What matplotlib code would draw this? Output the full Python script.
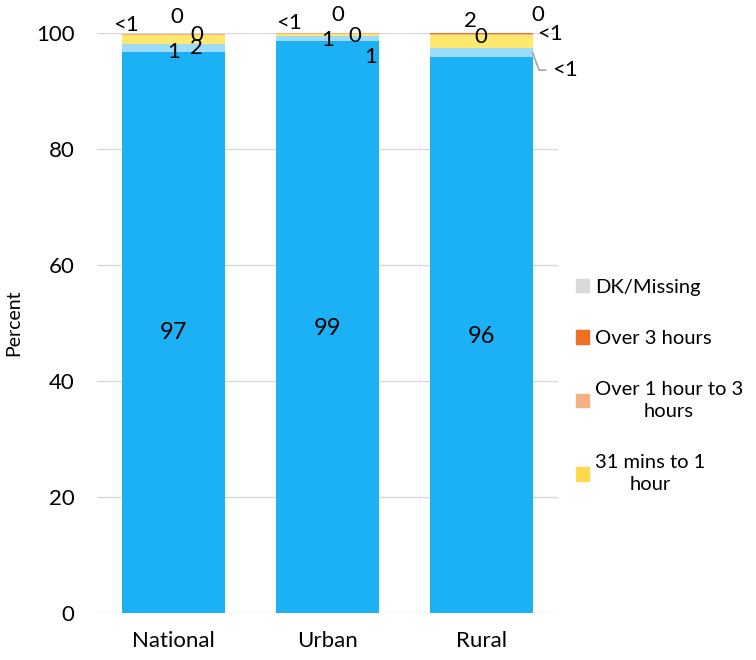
import numpy as np
import matplotlib.pyplot as plt

plt.rcParams['font.family'] = ['Lato', 'DejaVu Sans']

categories = ['National', 'Urban', 'Rural']

# stacked series, bottom to top
series_names = ['Water on premises', 'Up to 30 minutes', '31 mins to 1\nhour',
                'Over 1 hour to 3\nhours', 'Over 3 hours', 'DK/Missing']
on_premises = [96.7, 98.7, 95.9]
up_to_30 = [1.4, 0.7, 1.5]
mins_31_60 = [1.6, 0.5, 2.3]
hour_1_3 = [0.2, 0.1, 0.2]
over_3 = [0.0, 0.0, 0.05]
dk_missing = [0.1, 0.0, 0.05]

# value labels as printed on the chart
lab_premises = ['97', '99', '96']
lab_30 = ['1', '1', '<1']
lab_31_60 = ['2', '1', '2']
lab_1_3 = ['0', '0', '0']
lab_over3 = ['0', '0', '0']
lab_dk = ['<1', '<1', '<1']

colors = ['#1BB1F4', '#9CDCF9', '#FFE86E', '#F4B183', '#F07021', '#D9D9D9']
legend_colors = ['#D9D9D9', '#F07021', '#F4B183', '#FFD84C']

values = [on_premises, up_to_30, mins_31_60, hour_1_3, over_3, dk_missing]
labels = [lab_premises, lab_30, lab_31_60, lab_1_3, lab_over3, lab_dk]

fig, ax = plt.subplots(figsize=(7.56, 6.6), dpi=100)
plt.subplots_adjust(left=0.128, right=0.738, top=0.95, bottom=0.071)

x = np.arange(len(categories))
bottom = np.zeros(len(categories))
for vals, col in zip(values, colors):
    ax.bar(x, vals, width=0.67, bottom=bottom, color=col, zorder=2)
    bottom += np.array(vals)

# label placement (x offset, y) per series per category, tweaked to mimic the original
label_pos = [
    [(0, 48.3), (0, 49.1), (0, 47.6)],
    [(0, 96.7), (0.28, 95.9), None],
    [(0.15, 97.4), (0, 98.8), (-0.07, 102.0)],
    [(0.15, 99.7), (0.18, 99.5), (0, 99.3)],
    [(0.02, 102.8), (0.07, 103.1), (0.37, 103.1)],
    [(-0.31, 101.4), (-0.25, 101.7), (0.45, 99.8)],
]
for si, (labs, pos) in enumerate(zip(labels, label_pos)):
    for ci in range(len(categories)):
        if pos[ci] is None:
            continue
        dx, yy = pos[ci]
        ax.text(x[ci] + dx, yy, labs[ci], ha='center', va='center',
                fontsize=17 if si == 0 else 16, zorder=4)

# leader line label for rural "up to 30 minutes"
ax.annotate(lab_30[2], xy=(x[2] + 0.335, on_premises[2] + up_to_30[2] / 2),
            xytext=(x[2] + 0.55, 93.6), ha='center', va='center', fontsize=16,
            arrowprops=dict(arrowstyle='-', color='#A6A6A6', lw=1.2,
                            shrinkA=3, shrinkB=0,
                            connectionstyle='angle,angleA=0,angleB=110,rad=0'),
            annotation_clip=False)

ax.set_ylim(0, 100)
ax.set_xlim(-0.5, 2.5)
ax.set_yticks(np.arange(0, 101, 20))
ax.set_xticks(x)
ax.set_xticklabels(categories)
ax.tick_params(axis='both', length=0, labelsize=16)
ax.tick_params(axis='y', pad=16)
ax.tick_params(axis='x', pad=13)
ax.yaxis.grid(True, color='#D9D9D9', lw=1, zorder=0)
ax.set_axisbelow(True)
for s in ax.spines.values():
    s.set_visible(False)
ax.set_ylabel('Percent', fontsize=14, labelpad=10)

handles = [plt.Rectangle((0, 0), 1, 1, color=c) for c in legend_colors]
leg = fig.legend(handles, series_names[::-1][:4], loc='center left',
                 bbox_to_anchor=(0.74, 0.415), frameon=False, fontsize=14.5,
                 handlelength=0.65, handleheight=0.65, handletextpad=0.3,
                 labelspacing=1.7, borderpad=0.3)
for t in leg.get_texts():
    t.set_multialignment('center')
    t.set_linespacing(1.35)

fig.savefig('out.png', dpi=100)
